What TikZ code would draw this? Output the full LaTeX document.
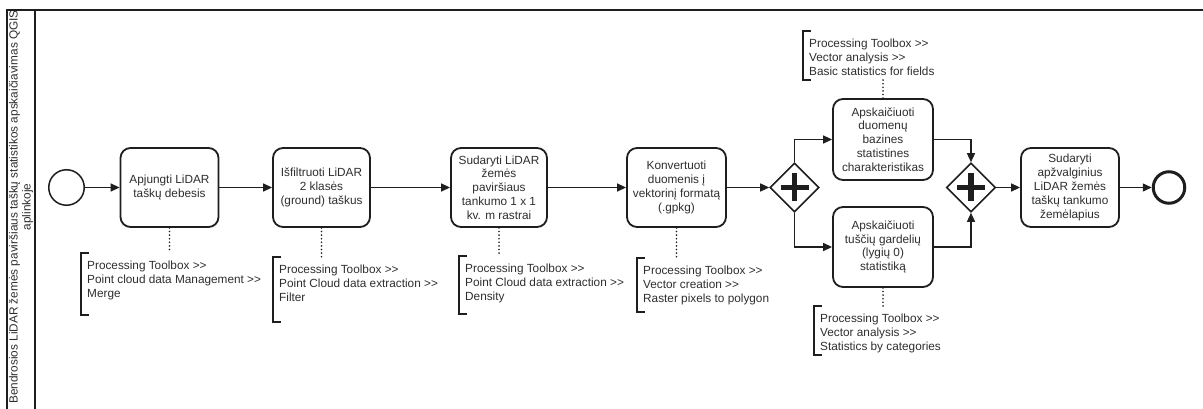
\documentclass[tikz,border=0pt]{standalone}
\usepackage{fontspec}
\setmainfont{Liberation Sans}
\usetikzlibrary{arrows.meta,shapes.geometric,calc}
\definecolor{ink}{HTML}{1E1E1E}
\definecolor{txt}{HTML}{2E2E2E}
% two separate '>' signs, kept apart so they do not form a guillemet
\newcommand{\gtgt}{>\kern0pt>}
\begin{document}
\begin{tikzpicture}[x=1pt,y=-1pt,
  taskbox/.style={draw=ink,line width=1.8pt,rounded corners=10pt,fill=white,
    minimum width=98pt,minimum height=79pt,align=center,text=txt,
    font=\fontsize{11.8}{13.8}\selectfont,inner sep=2pt},
  gate/.style={draw=ink,line width=1.6pt,diamond,aspect=1,minimum width=49pt,
    minimum height=49pt,inner sep=0pt,fill=white},
  plus/.style={draw=ink,line width=5.5pt},
  flow/.style={draw=ink,line width=1.4pt,-{Triangle[length=9pt,width=8pt]}},
  assoc/.style={draw=ink,line width=1.8pt,line cap=round,dash pattern=on 0pt off 3.6pt},
  bracket/.style={draw=ink,line width=1.8pt},
  note/.style={anchor=north west,align=left,text=txt,
    font=\fontsize{11.8}{14}\selectfont,inner sep=0pt},
  lane/.style={draw=ink,line width=1.8pt},
]
\useasboundingbox (0,0) rectangle (1203,409);

% pool and lane header
\draw[lane] (7,409) -- (7,10) -- (1203,10);
\draw[lane] (35,10) -- (35,409);
\node[rotate=90,align=center,text=txt,font=\fontsize{11.8}{13}\selectfont,inner sep=0pt]
  (lanelabel) at (21,207)
  {Bendrosios LiDAR žemės paviršiaus taškų statistikos apskaičiavimas QGIS\\aplinkoje};

% events
\node[circle,draw=ink,line width=1.5pt,minimum size=35.5pt,inner sep=0pt] (start) at (66.5,187.5) {};
\node[circle,draw=ink,line width=3pt,minimum size=31.5pt,inner sep=0pt] (end) at (1169,187.5) {};

% tasks
\node[taskbox] (t1) at (169.5,187.5) {Apjungti LiDAR\\taškų debesis};
\node[taskbox,minimum width=97pt] (t2) at (321.5,187.5) {Išfiltruoti LiDAR\\2 klasės\\(ground) taškus};
\node[taskbox,minimum width=96pt] (t3) at (499,187.5) {Sudaryti LiDAR\\žemės\\paviršiaus\\tankumo 1 x 1\\kv. m rastrai};
\node[taskbox,minimum width=99pt] (t4) at (676.5,187.5) {Konvertuoti\\duomenis į\\vektorinį formatą\\(.gpkg)};
\node[taskbox,minimum width=100pt,minimum height=81pt] (up) at (883,139.5) {Apskaičiuoti\\duomenų\\bazines\\statistines\\charakteristikas};
\node[taskbox,minimum width=100pt,minimum height=80pt] (lo) at (883,247) {Apskaičiuoti\\tuščių gardelių\\(lygių 0)\\statistiką};
\node[taskbox] (fin) at (1070,187.5) {Sudaryti\\apžvalginius\\LiDAR žemės\\taškų tankumo\\žemėlapius};

% parallel gateways
\node[gate] (g1) at (794.5,187.5) {};
\node[gate] (g2) at (971,187.5) {};
\foreach \g in {g1,g2}{
  \draw[plus] ($(\g)+(-14,0)$) -- ($(\g)+(14,0)$);
  \draw[plus] ($(\g)+(0,-14)$) -- ($(\g)+(0,14)$);
}

% sequence flows
\draw[flow] (start) -- (t1);
\draw[flow] (t1) -- (t2);
\draw[flow] (t2) -- (t3);
\draw[flow] (t3) -- (t4);
\draw[flow] (t4) -- (g1);
\draw[flow] (g1.north) |- (up.west);
\draw[flow] (g1.south) |- (lo.west);
\draw[flow] (up.east) -| (g2.north);
\draw[flow] (lo.east) -| (g2.south);
\draw[flow] (g2) -- (fin);
\draw[flow] (fin) -- (end);

% text annotations: bracket corners
\coordinate (a1) at (81,253);  \coordinate (a1b) at (81,315);
\coordinate (a2) at (273,257); \coordinate (a2b) at (273,322);
\coordinate (a3) at (459,256); \coordinate (a3b) at (459,314);
\coordinate (a4) at (637,258); \coordinate (a4b) at (637,312);
\coordinate (a5) at (803,31);  \coordinate (a5b) at (803,80);
\coordinate (a6) at (814,306); \coordinate (a6b) at (814,355);

\foreach \a in {a1,a2,a3,a4,a5,a6}{
  \draw[bracket] ($(\a)+(8,0)$) -- (\a) -- (\a b) -- ($(\a b)+(8,0)$);
}

\node[note] (n1) at ($(a1)+(6,8)$) {Processing Toolbox \gtgt\\Point cloud data Management \gtgt\\Merge};
\node[note] (n2) at ($(a2)+(6,8)$) {Processing Toolbox \gtgt\\Point Cloud data extraction \gtgt\\Filter};
\node[note] (n3) at ($(a3)+(6,8)$) {Processing Toolbox \gtgt\\Point Cloud data extraction \gtgt\\Density};
\node[note] (n4) at ($(a4)+(6,8)$) {Processing Toolbox \gtgt\\Vector creation \gtgt\\Raster pixels to polygon};
\node[note] (n5) at ($(a5)+(6,8)$) {Processing Toolbox \gtgt\\Vector analysis \gtgt\\Basic statistics for fields};
\node[note] (n6) at ($(a6)+(6,8)$) {Processing Toolbox \gtgt\\Vector analysis \gtgt\\Statistics by categories};

% associations
\draw[assoc] (t1.south) -- (t1.south |- a1);
\draw[assoc] (t2.south) -- (t2.south |- a2);
\draw[assoc] (t3.south) -- (t3.south |- a3);
\draw[assoc] (t4.south) -- (t4.south |- a4);
\draw[assoc] (up.north) -- (up.north |- a5b);
\draw[assoc] (lo.south) -- (lo.south |- a6);
\end{tikzpicture}
\end{document}
